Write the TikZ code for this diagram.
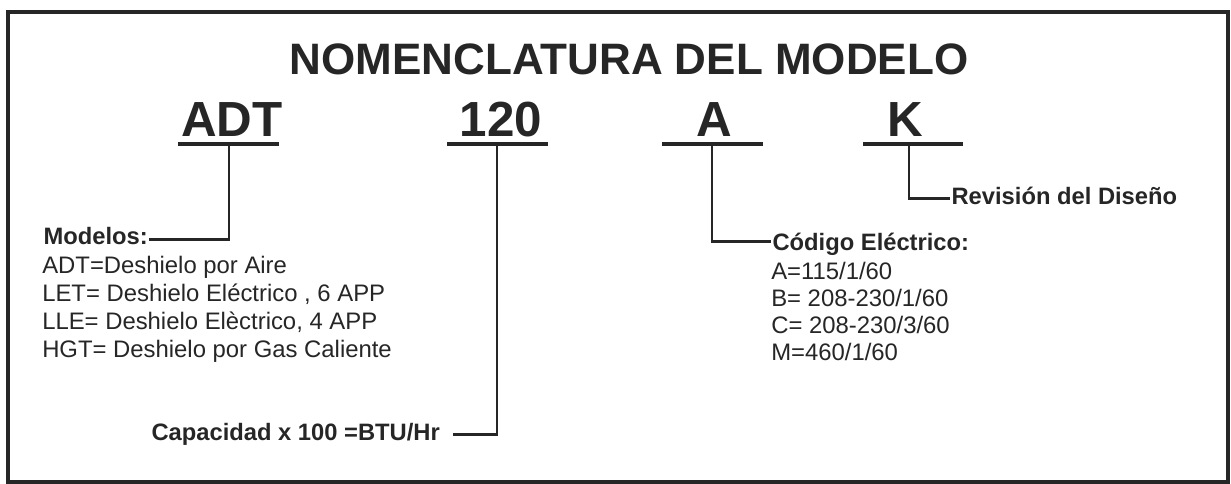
\documentclass[tikz,border=0pt]{standalone}
\usepackage{fontspec}
\setmainfont{Liberation Sans}
\usetikzlibrary{positioning}
\definecolor{inkCol}{HTML}{262626}

\begin{document}
\begin{tikzpicture}[
    x=0.75pt, y=-0.75pt,
    % Text styles
    title/.style={
        font=\fontsize{33}{36}\selectfont\bfseries,
        text=inkCol,
        inner sep=0pt,
        anchor=base
    },
    codepart/.style={
        font=\fontsize{37}{40}\selectfont\bfseries,
        text=inkCol,
        inner sep=0pt,
        anchor=base
    },
    heading/.style={
        font=\fontsize{17.8}{21}\selectfont\bfseries,
        text=inkCol,
        inner sep=1pt,
        anchor=base west
    },
    itemlist/.style={
        font=\fontsize{17.9}{#1}\selectfont,
        text=inkCol,
        inner sep=0pt,
        align=left
    },
    % Line styles
    underline/.style={
        draw=inkCol,
        line width=2.6pt
    },
    leader/.style={
        draw=inkCol,
        line width=2pt
    },
    frame/.style={
        draw=inkCol,
        line width=2.4pt
    }
]
    \useasboundingbox (0,0) rectangle (1231,484);

    % ==== FRAME ====
    \draw[frame] (8,12) rectangle (1228,482);

    % ==== TITLE ====
    \node[title] (titulo) at (629,75) {NOMENCLATURA DEL MODELO};

    % ==== MODEL CODE PARTS ====
    \node[codepart] (adt) at (232,137) {ADT};
    \node[codepart] (cap120) at (501,137) {120};
    \node[codepart] (volt) at (714,137) {A};
    \node[codepart] (rev) at (905,137) {K};

    % underline ends
    \coordinate (adtL) at (178,144);
    \coordinate (adtR) at (279,144);
    \coordinate (adtM) at (229,144);
    \coordinate (capL) at (447,144);
    \coordinate (capR) at (548,144);
    \coordinate (capM) at (497,144);
    \coordinate (voltL) at (662,144);
    \coordinate (voltR) at (763,144);
    \coordinate (voltM) at (712,144);
    \coordinate (revL) at (863,144);
    \coordinate (revR) at (963,144);
    \coordinate (revM) at (909,144);

    % ==== DESCRIPTIONS ====
    \node[heading] (modelos) at (42,245) {Modelos:};
    \node[itemlist=21.2pt, below=6.5pt of modelos.south west, anchor=north west] (modlist) {ADT=Deshielo por Aire\\LET= Deshielo Eléctrico , 6 APP\\LLE= Deshielo Elèctrico, 4 APP\\HGT= Deshielo por Gas Caliente};

    \node[heading] (capac) at (150,440) {Capacidad x 100 =BTU/Hr};

    \node[heading] (codelec) at (771,251) {Código Eléctrico:};
    \node[itemlist=20.3pt, below=3pt of codelec.south west, anchor=north west] (voltlist) {A=115/1/60\\B= 208-230/1/60\\C= 208-230/3/60\\M=460/1/60};

    \node[heading] (revdes) at (950,205) {Revisión del Diseño};

    % ==== CONNECTIONS ====
    \draw[underline] (adtL) -- (adtR);
    \draw[underline] (capL) -- (capR);
    \draw[underline] (voltL) -- (voltR);
    \draw[underline] (revL) -- (revR);

    \draw[leader] (adtM) |- ([yshift=4pt]modelos.base east);
    \draw[leader] (capM) |- ([xshift=9pt,yshift=4pt]capac.base east);
    \draw[leader] (voltM) |- ([yshift=7pt]codelec.base west);
    \draw[leader] (revM) |- ([yshift=5pt]revdes.base west);

\end{tikzpicture}
\end{document}
